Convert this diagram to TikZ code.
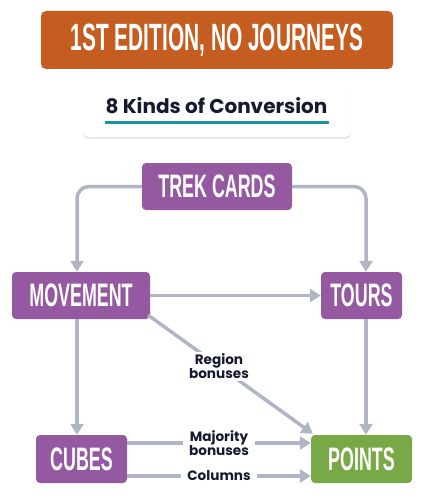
\documentclass[tikz,border=0pt]{standalone}
\usepackage{fontspec}
\usetikzlibrary{arrows.meta,shadows,calc}
\newfontfamily\condfont[FakeStretch=0.55]{Liberation Sans}
\newfontfamily\labfont{Poppins}
\definecolor{titleor}{RGB}{198,93,32}
\definecolor{purp}{RGB}{149,89,161}
\definecolor{grn}{RGB}{121,168,70}
\definecolor{arr}{RGB}{176,181,198}
\definecolor{teal}{RGB}{27,147,163}
\definecolor{ink}{RGB}{22,26,46}
\begin{document}
\begin{tikzpicture}[x=1pt,y=-1pt,
  box/.style={fill=purp, rounded corners=4pt, text=white, inner sep=0pt,
    font=\condfont\bfseries\fontsize{32.5}{33}\selectfont, minimum height=47pt},
  conn/.style={draw=arr, line width=3.5pt, -{Triangle[width=13pt,length=11pt]}},
  lab/.style={fill=white, text=ink, inner xsep=6pt, inner ysep=2pt, align=center,
    font=\labfont\bfseries\fontsize{13.6}{14}\selectfont}]
\useasboundingbox (0,0) rectangle (434,500);
% title
\node[fill=titleor, rounded corners=5pt, minimum width=352pt, minimum height=58pt, inner sep=0pt,
  text=white, font=\condfont\bfseries\fontsize{38}{39}\selectfont] (title) at (217,40) {1ST EDITION, NO JOURNEYS};
% subtitle
\node[fill=white, rounded corners=6pt, minimum width=268pt, minimum height=53pt, inner sep=0pt,
  drop shadow={shadow xshift=0pt, shadow yshift=-1.5pt, opacity=0.12, fill=black}] (sub) at (217,110.5) {};
\node[text=ink, font=\labfont\bfseries\fontsize{20}{21}\selectfont, inner sep=0pt, anchor=base] (subtxt) at (216.5,113.5) {8 Kinds of Conversion};
\draw[teal, line width=3pt] (105,122) coordinate (ul1) -- (329,122) coordinate (ul2);
% nodes
\node[box, minimum width=150pt] (trek) at (217,186.5) {TREK CARDS};
\node[box, minimum width=138pt] (mov) at (81,295.5) {MOVEMENT};
\node[box, minimum width=81pt] (tours) at (361.5,295.5) {TOURS};
\node[box, minimum width=91pt, minimum height=48pt] (cubes) at (81.5,459) {CUBES};
\node[box, fill=grn, minimum width=101pt, minimum height=48pt] (pts) at (361.5,459) {POINTS};
% connectors
\draw[conn, rounded corners=12pt] (trek.west) -| ($(mov.north)+(-4,0)$);
\draw[conn, rounded corners=12pt] (trek.east) -| ($(tours.north)+(4.5,0)$);
\draw[conn] (mov.east) -- (tours.west);
\draw[conn] ($(mov.south)+(-4,0)$) -- ($(cubes.north)+(-4.5,0)$);
\draw[conn] ($(tours.south)+(4.5,0)$) -- ($(pts.north)+(4.5,0)$);
\draw[conn] ($(mov.south east)+(-2,-4)$) -- node[lab, pos=0.43] (rb) {Region\\bonuses} ($(pts.north west)+(2,-1)$);
\draw[conn] ($(cubes.east)+(0,-16)$) -- node[lab, inner ysep=0pt] (mb) {Majority\\bonuses} ($(pts.west)+(0,-16)$);
\draw[conn] ($(cubes.east)+(0,17)$) -- node[lab] (cl) {Columns} ($(pts.west)+(0,17)$);
\end{tikzpicture}
\end{document}
